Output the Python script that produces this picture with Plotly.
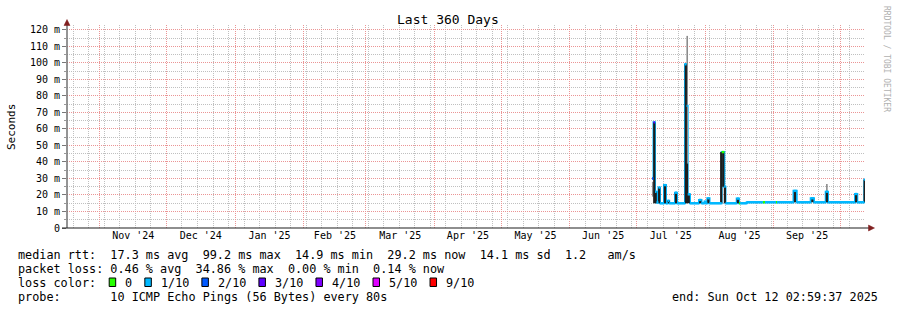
import plotly.graph_objects as go

# ---------------- data ----------------
START = "2024-10-17 02:59:37"
END = "2025-10-12 02:59:37"

# median rtt per consolidation bucket (bucket start time), value in ms, loss level index
med_time = [
    "2025-07-08 01:00", "2025-07-08 17:00", "2025-07-09 09:20", "2025-07-10 01:40",
    "2025-07-10 23:15", "2025-07-11 15:30", "2025-07-13 10:50", "2025-07-14 08:30",
    "2025-07-15 03:00", "2025-07-15 19:10", "2025-07-18 09:50", "2025-07-19 07:40",
    "2025-07-22 22:10", "2025-07-23 14:25", "2025-07-24 03:00", "2025-07-25 04:20",
    "2025-07-29 05:45", "2025-07-30 08:50", "2025-07-31 17:20", "2025-08-01 04:05",
    "2025-08-01 23:35", "2025-08-02 23:30", "2025-08-08 11:30", "2025-08-09 15:40",
    "2025-08-10 04:50", "2025-08-15 06:00", "2025-08-16 07:00", "2025-08-16 21:00",
    "2025-08-19 18:15", "2025-08-26 23:30", "2025-08-28 00:15", "2025-09-01 23:30",
    "2025-09-02 10:20", "2025-09-09 20:50", "2025-09-11 07:40", "2025-09-17 15:10",
    "2025-09-19 02:50", "2025-09-24 09:35", "2025-09-25 10:30", "2025-10-07 14:50",
    "2025-10-08 15:40", "2025-10-11 19:25",
]
med_ms = [
    30.0, 64.0, 22.0, 15.5,
    24.5, 15.0, 26.0, 15.0,
    16.5, 15.0, 21.4, 15.0,
    99.2, 74.0, 20.4, 15.0,
    17.0, 15.0, 16.0, 15.0,
    18.0, 15.0, 46.0, 25.0,
    15.0, 17.8, 15.0, 15.0,
    15.6, 15.6, 15.6, 15.6,
    15.6, 22.5, 15.6, 18.0,
    15.6, 22.0, 15.6, 20.6,
    15.6, 29.2,
]
med_loss = [
    2, 3, 1, 1,
    1, 1, 1, 1,
    1, 1, 1, 1,
    1, 1, 1, 1,
    1, 1, 1, 1,
    1, 1, 0, 1,
    1, 1, 0, 1,
    1, 0, 1, 0,
    1, 1, 1, 1,
    1, 1, 1, 1,
    1, 1,
]

# dark smoke (ping spread) per bucket
smoke_time = [
    "2025-07-09 01:00", "2025-07-09 17:00", "2025-07-11 06:00", "2025-07-13 21:00",
    "2025-07-15 12:00", "2025-07-18 20:00", "2025-07-23 07:00", "2025-07-23 20:00",
    "2025-07-24 15:00", "2025-07-29 19:00", "2025-08-02 11:00", "2025-08-08 06:00",
    "2025-08-09 04:00", "2025-08-09 22:00", "2025-08-15 18:00", "2025-09-10 12:00",
    "2025-09-18 09:00", "2025-09-24 22:00", "2025-10-08 03:00", "2025-10-11 23:00",
]
smoke_lo = [15.0, 15.0, 15.0, 15.0, 15.0, 15.0, 15.0, 15.0, 15.0, 15.0,
            15.0, 15.0, 25.0, 15.0, 15.0, 15.6, 15.6, 15.6, 15.6, 15.6]
smoke_hi = [64.0, 22.0, 24.5, 26.0, 16.5, 21.4, 99.2, 39.0, 20.4, 17.0,
            18.0, 46.0, 46.0, 25.0, 17.8, 22.5, 18.0, 22.0, 20.6, 29.2]

# light smoke (outlier pings)
smoke2_time = ["2025-07-08 09:00", "2025-07-23 22:00", "2025-09-24 22:00"]
smoke2_lo = [19.0, 39.0, 22.0]
smoke2_hi = [28.0, 116.4, 26.7]

y_tick_vals = [0, 10, 20, 30, 40, 50, 60, 70, 80, 90, 100, 110, 120]
y_tick_text = ["0", "10 m", "20 m", "30 m", "40 m", "50 m", "60 m", "70 m",
               "80 m", "90 m", "100 m", "110 m", "120 m"]
y_minor_vals = [5, 15, 25, 35, 45, 55, 65, 75, 85, 95, 105, 115]

loss_labels = ["0", "1/10", "2/10", "3/10", "4/10", "5/10", "9/10"]
loss_colors = ["#26ff00", "#00b8ff", "#0059ff", "#5e00ff", "#7e00ff", "#dd00ff", "#ff0000"]

stats_rtt = "median rtt:  17.3 ms avg  99.2 ms max  14.9 ms min  29.2 ms now  14.1 ms sd  1.2   am/s"
stats_loss = "packet loss: 0.46 % avg  34.86 % max  0.00 % min  0.14 % now"
probe_text = "probe:       10 ICMP Echo Pings (56 Bytes) every 80s"
end_text = "end: Sun Oct 12 02:59:37 2025"

# ---------------- layout helpers ----------------
W, H = 897, 310
PL, PT, PW, PH = 67, 25, 798, 203
MONO = "DejaVu Sans Mono"
CHW = 7.13  # legend char advance in px


def px(x):
    return (x - PL) / PW


def py(y):
    return (PT + PH - y) / PH


def nb(s):
    return s.replace(" ", "\u00a0")


fig = go.Figure()

# median step line (base, cyan)
fig.add_trace(go.Scatter(
    x=med_time + [END], y=med_ms + [med_ms[-1]], mode="lines",
    line=dict(color=loss_colors[1], width=2, shape="hv"),
    hoverinfo="skip", showlegend=False))

# light smoke
sx, sy = [], []
for t, lo, hi in zip(smoke2_time, smoke2_lo, smoke2_hi):
    sx += [t, t, None]
    sy += [lo, hi, None]
fig.add_trace(go.Scatter(x=sx, y=sy, mode="lines",
                         line=dict(color="#8c8c8c", width=1.6),
                         hoverinfo="skip", showlegend=False))

# dark smoke
sx, sy = [], []
for t, lo, hi in zip(smoke_time, smoke_lo, smoke_hi):
    sx += [t, t, None]
    sy += [lo, hi, None]
fig.add_trace(go.Scatter(x=sx, y=sy, mode="lines",
                         line=dict(color="#1e1e1e", width=2.2),
                         hoverinfo="skip", showlegend=False))

# median horizontal segments coloured by loss
ends = med_time[1:] + [END]
for lvl, col in enumerate(loss_colors):
    xs, ys = [], []
    for t0, t1, v, l in zip(med_time, ends, med_ms, med_loss):
        if l == lvl:
            xs += [t0, t1, None]
            ys += [v, v, None]
    if xs:
        fig.add_trace(go.Scatter(x=xs, y=ys, mode="lines",
                                 line=dict(color=col, width=2.4),
                                 hoverinfo="skip", showlegend=False))

RED = "#eb9595"
GREY = "#c0c0c0"
DASH = "1px,1px"

fig.update_layout(
    width=W, height=H, autosize=False,
    margin=dict(l=PL, r=W - PL - PW, t=PT, b=H - PT - PH, pad=0),
    paper_bgcolor="white", plot_bgcolor="white",
    font=dict(family=MONO, color="#000000", size=10),
    showlegend=False,
    xaxis=dict(
        type="date", range=[START, END],
        dtick="M1", tick0="2024-11-01", ticklabelmode="period",
        tickformat="%b '%y", tickfont=dict(family=MONO, size=10, color="#000"),
        showgrid=True, gridcolor=RED, griddash=DASH, gridwidth=1,
        minor=dict(dtick=7 * 86400000, tick0="2024-10-20", showgrid=True,
                   gridcolor=GREY, griddash=DASH, gridwidth=1),
        ticks="", showline=False, zeroline=False,
        fixedrange=True, layer="below traces",
    ),
    yaxis=dict(
        range=[0, 123], tickmode="array", tickvals=y_tick_vals, ticktext=y_tick_text,
        tickfont=dict(family=MONO, size=10, color="#000"),
        showgrid=True, gridcolor=RED, griddash=DASH, gridwidth=1,
        minor=dict(tickmode="array", tickvals=y_minor_vals, showgrid=True,
                   gridcolor=GREY, griddash=DASH, gridwidth=1,
                   ticks="outside", ticklen=2, tickcolor="#999"),
        ticks="outside", ticklen=4, tickcolor="#777", tickwidth=1,
        showline=False, zeroline=False, fixedrange=True,
    ),
)

shapes = []
# axes lines
shapes.append(dict(type="line", xref="paper", yref="paper",
                   x0=px(67), x1=px(67), y0=py(228), y1=py(22),
                   line=dict(color="#707070", width=1.5)))
shapes.append(dict(type="line", xref="paper", yref="paper",
                   x0=px(62), x1=px(870), y0=py(228), y1=py(228),
                   line=dict(color="#1f1f1f", width=1.2)))
ARROW = "#801f1f"
shapes.append(dict(type="path", xref="paper", yref="paper",
                   path=f"M {px(64)} {py(25.5)} L {px(70)} {py(25.5)} L {px(67)} {py(19.5)} Z",
                   fillcolor=ARROW, line=dict(color=ARROW, width=0.5)))
shapes.append(dict(type="path", xref="paper", yref="paper",
                   path=f"M {px(868.5)} {py(225)} L {px(868.5)} {py(231)} L {px(874.5)} {py(228)} Z",
                   fillcolor=ARROW, line=dict(color=ARROW, width=0.5)))

annotations = []
# title
annotations.append(dict(text="Last 360 Days", xref="paper", yref="paper",
                        x=px(448), y=py(19.5), xanchor="center", yanchor="middle",
                        showarrow=False, font=dict(family=MONO, size=13, color="#000")))
# y-axis title
annotations.append(dict(text="Seconds", xref="paper", yref="paper",
                        x=px(11), y=py(127), xanchor="center", yanchor="middle",
                        textangle=-90, showarrow=False,
                        font=dict(family=MONO, size=11, color="#000")))
# vertical watermark
annotations.append(dict(text=nb("RRDTOOL / TOBI OETIKER"), xref="paper", yref="paper",
                        x=px(887), y=py(59), xanchor="center", yanchor="middle",
                        textangle=90, showarrow=False,
                        font=dict(family=MONO, size=8, color="#b0b0b0")))

LX = 16
line_y = [254.5, 268.5, 282.5, 296.5]
for txt, yy in [(stats_rtt, line_y[0]), (stats_loss, line_y[1]), (probe_text, line_y[3])]:
    annotations.append(dict(text=nb(txt), xref="paper", yref="paper",
                            x=px(LX), y=py(yy), xanchor="left", yanchor="middle",
                            showarrow=False, font=dict(family=MONO, size=11.8, color="#000")))
annotations.append(dict(text=nb("loss color:"), xref="paper", yref="paper",
                        x=px(LX), y=py(line_y[2]), xanchor="left", yanchor="middle",
                        showarrow=False, font=dict(family=MONO, size=11.8, color="#000")))
col = 13
for lab, c in zip(loss_labels, loss_colors):
    bx = LX + col * CHW
    shapes.append(dict(type="rect", xref="paper", yref="paper",
                       x0=px(bx + 0.5), x1=px(bx + 7), y0=py(286.5), y1=py(278),
                       fillcolor=c, line=dict(color="#000", width=1)))
    annotations.append(dict(text=nb(lab), xref="paper", yref="paper",
                            x=px(LX + (col + 2) * CHW), y=py(line_y[2]),
                            xanchor="left", yanchor="middle", showarrow=False,
                            font=dict(family=MONO, size=11.8, color="#000")))
    col += 2 + len(lab) + 2
annotations.append(dict(text=nb(end_text), xref="paper", yref="paper",
                        x=px(880), y=py(line_y[3]), xanchor="right", yanchor="middle",
                        showarrow=False, font=dict(family=MONO, size=11.8, color="#000")))

fig.update_layout(shapes=shapes, annotations=annotations)
fig.write_html("out.html")
